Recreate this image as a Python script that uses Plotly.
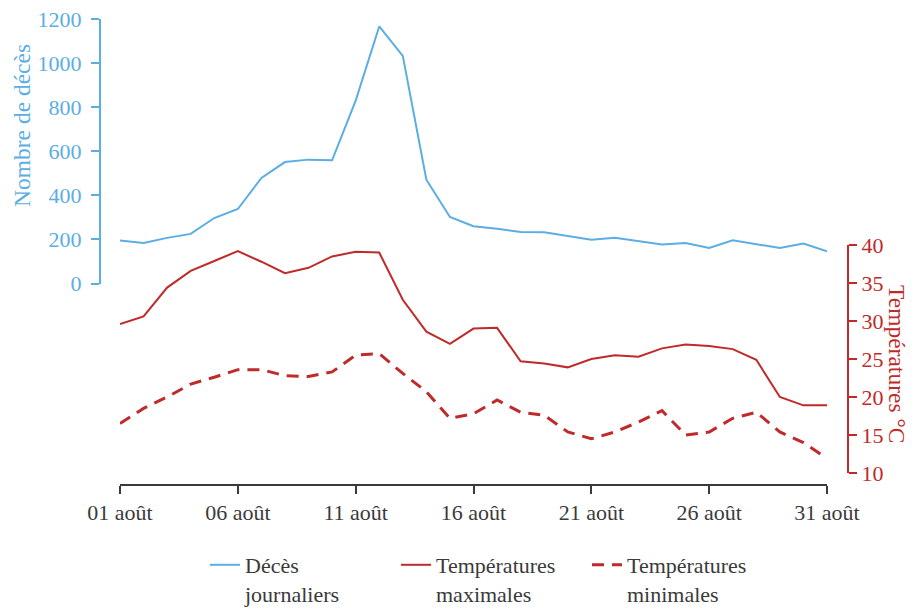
import plotly.graph_objects as go

days = list(range(1, 32))
deces = [195, 184, 207, 225, 297, 338, 479, 551, 562, 559, 830, 1166, 1033, 471, 302,
         260, 248, 234, 232, 214, 199, 207, 192, 177, 184, 161, 196, 180, 161, 181, 146]
tmax = [29.6, 30.6, 34.4, 36.6, 37.9, 39.2, 37.8, 36.3, 37.0, 38.5, 39.1, 39.0, 32.8, 28.6, 27.0,
        29.0, 29.1, 24.7, 24.4, 23.9, 25.0, 25.5, 25.3, 26.4, 26.9, 26.7, 26.3, 24.9, 20.0, 18.9, 18.9]
tmin = [16.5, 18.5, 20.0, 21.7, 22.6, 23.6, 23.6, 22.8, 22.7, 23.3, 25.5, 25.7, 23.1, 20.7, 17.2,
        17.8, 19.6, 18.0, 17.6, 15.4, 14.5, 15.4, 16.7, 18.2, 15.0, 15.4, 17.2, 18.0, 15.4, 14.0, 11.9]
tick_days = [1, 6, 11, 16, 21, 26, 31]
tick_labels = ["01 août", "06 août", "11 août", "16 août", "21 août", "26 août", "31 août"]
deces_ticks = [0, 200, 400, 600, 800, 1000, 1200]
temp_ticks = [10, 15, 20, 25, 30, 35, 40]

BLUE = "#5AAEE3"
RED = "#BF2A2A"
GREY = "#3A3A3A"
FONT = "Liberation Serif, Times New Roman, serif"

fig = go.Figure()
fig.add_trace(go.Scatter(x=days, y=deces, mode="lines", name="Décès<br>journaliers",
                         line=dict(color=BLUE, width=2), xaxis="x", yaxis="y"))
fig.add_trace(go.Scatter(x=days, y=tmax, mode="lines", name="Températures<br>maximales",
                         line=dict(color=RED, width=2), xaxis="x", yaxis="y2"))
fig.add_trace(go.Scatter(x=days, y=tmin, mode="lines", name="Températures<br>minimales",
                         line=dict(color=RED, width=3, dash="12px,8px"), xaxis="x", yaxis="y2"))

# page body has an 8px margin: figure coordinates = page coordinates - 8
OFF = 8
W, H = 916 - OFF, 620
ml, mr, mt = 100 - OFF, 68, 19 - OFF
mb = H - (485 - OFF)
pw = W - ml - mr
ph = H - mt - mb


def px_x(page_x):
    return (page_x - OFF - ml) / pw


def px_y(page_y):
    return (H - mb - (page_y - OFF)) / ph


fig.update_layout(
    width=W, height=H,
    margin=dict(l=ml, r=mr, t=mt, b=mb, autoexpand=False),
    paper_bgcolor="white", plot_bgcolor="rgba(0,0,0,0)",
    font=dict(family=FONT, size=22, color=GREY),
    showlegend=True,
    legend=dict(orientation="h", x=px_x(205), y=px_y(544), xanchor="left", yanchor="top",
                font=dict(family=FONT, size=22, color=GREY), valign="top",
                entrywidth=146, itemwidth=30, bgcolor="rgba(0,0,0,0)"),
    xaxis=dict(domain=[px_x(120), px_x(827)], range=[1, 31], anchor="free", position=0,
               tickmode="array", tickvals=tick_days, ticktext=tick_labels,
               showline=True, linecolor=GREY, linewidth=2, ticks="outside", ticklen=8,
               tickwidth=2, tickcolor=GREY, showgrid=False, zeroline=False,
               ticklabeloverflow="allow",
               tickfont=dict(family=FONT, size=22, color=GREY), automargin=False),
    yaxis=dict(domain=[px_y(283.5), px_y(19)], range=[0, 1200], anchor="free", position=0,
               tickmode="array", tickvals=deces_ticks,
               showline=True, linecolor=BLUE, linewidth=2, ticks="outside", ticklen=8,
               tickwidth=2, tickcolor=BLUE, showgrid=False, zeroline=False,
               ticklabelstandoff=5, ticklabeloverflow="allow",
               tickfont=dict(family=FONT, size=22, color=BLUE), automargin=False),
    yaxis2=dict(domain=[px_y(473), px_y(245)], range=[10, 40], anchor="free", position=1,
                side="right", tickmode="array", tickvals=temp_ticks,
                showline=True, linecolor=RED, linewidth=2, ticks="outside", ticklen=8,
                tickwidth=2, tickcolor=RED, showgrid=False, zeroline=False,
                ticklabeloverflow="allow",
                tickfont=dict(family=FONT, size=22, color=RED), automargin=False),
    annotations=[
        dict(text="Nombre de décès", xref="paper", yref="paper", x=px_x(22), y=px_y(126),
             xanchor="center", yanchor="middle", textangle=-90, showarrow=False,
             font=dict(family=FONT, size=23.5, color=BLUE)),
        dict(text="Températures °C", xref="paper", yref="paper", x=px_x(897), y=px_y(364),
             xanchor="center", yanchor="middle", textangle=90, showarrow=False,
             font=dict(family=FONT, size=23.5, color=RED)),
    ],
)

fig.write_html("out.html")
